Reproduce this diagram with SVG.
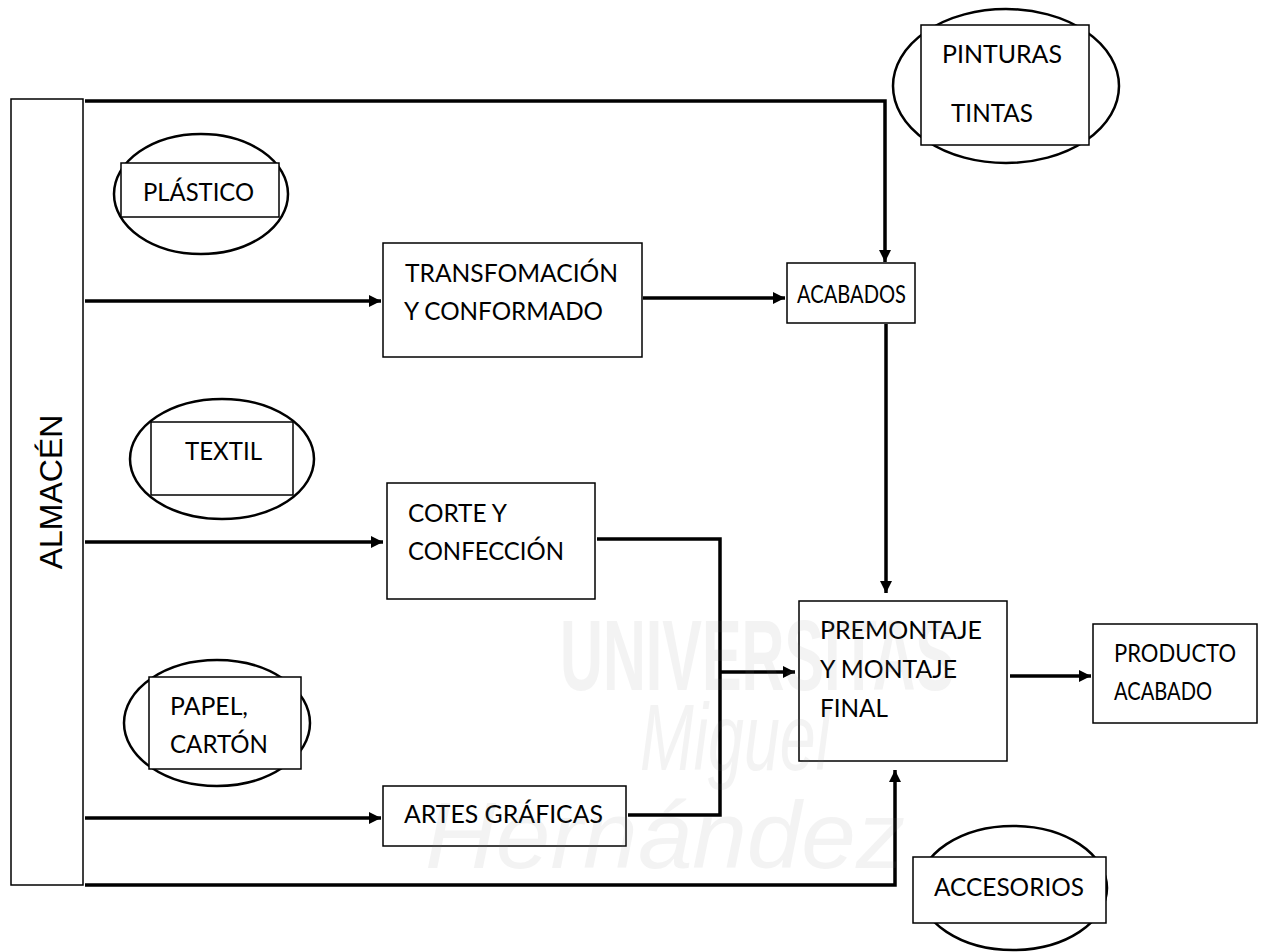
<svg xmlns="http://www.w3.org/2000/svg" width="1277" height="952" viewBox="0 0 1277 952">
<style>
.box{fill:#fff;stroke:#000;stroke-width:1.5}
.ell{fill:#fff;stroke:#000;stroke-width:2.5}
.t{font-family:Lato,"Liberation Sans",sans-serif;font-size:25px;fill:#000}
.c{fill:none;stroke:#000;stroke-width:3.5}
.wm{font-family:"Liberation Sans",sans-serif;fill:#808080;opacity:0.09}
</style>
<defs>
<marker id="ah" viewBox="0 0 12 12" refX="12" refY="6" markerWidth="12" markerHeight="12" markerUnits="userSpaceOnUse" orient="auto">
<path d="M0,0 L12,6 L0,12 Z" fill="#000"/>
</marker>
</defs>
<rect width="1277" height="952" fill="#fff"/>
<g id="connectors">
<path class="c" d="M85,101 H885 V262" marker-end="url(#ah)"/>
<path class="c" d="M85,301 H381" marker-end="url(#ah)"/>
<path class="c" d="M643,298 H785" marker-end="url(#ah)"/>
<path class="c" d="M886,324 V593" marker-end="url(#ah)"/>
<path class="c" d="M85,542 H383" marker-end="url(#ah)"/>
<path class="c" d="M597,539 H720 V815 H628"/>
<path class="c" d="M720,672 H795" marker-end="url(#ah)"/>
<path class="c" d="M85,818 H381" marker-end="url(#ah)"/>
<path class="c" d="M85,885 H895 V770" marker-end="url(#ah)"/>
<path class="c" d="M1010,676 H1091" marker-end="url(#ah)"/>
</g>
<g id="almacen">
<rect class="box" x="11" y="99" width="72" height="786"/>
<text font-family="'Liberation Sans',Arial,sans-serif" font-size="32" text-anchor="middle" transform="translate(62,492) rotate(-90)">ALMACÉN</text>
</g>
<g id="plastico">
<ellipse class="ell" cx="201" cy="194" rx="87" ry="60"/>
<rect class="box" x="121" y="163" width="158" height="54"/>
<text class="t" x="143" y="201" textLength="111" lengthAdjust="spacingAndGlyphs">PLÁSTICO</text>
</g>
<g id="pinturas">
<ellipse class="ell" cx="1006" cy="86" rx="113" ry="77"/>
<rect class="box" x="921" y="25" width="168" height="120"/>
<text class="t" x="942" y="63" textLength="120" lengthAdjust="spacingAndGlyphs">PINTURAS</text>
<text class="t" x="951" y="122" textLength="82" lengthAdjust="spacingAndGlyphs">TINTAS</text>
</g>
<g id="transformacion">
<rect class="box" x="383" y="243" width="259" height="114"/>
<text class="t" x="405" y="282" textLength="213" lengthAdjust="spacingAndGlyphs">TRANSFOMACIÓN</text>
<text class="t" x="404" y="320" textLength="199" lengthAdjust="spacingAndGlyphs">Y CONFORMADO</text>
</g>
<g id="acabados">
<rect class="box" x="787" y="263" width="128" height="60"/>
<text class="t" x="797" y="303" textLength="109" lengthAdjust="spacingAndGlyphs">ACABADOS</text>
</g>
<g id="textil">
<ellipse class="ell" cx="222" cy="459" rx="92" ry="60"/>
<rect class="box" x="151" y="422" width="142" height="73"/>
<text class="t" x="185" y="460" textLength="77" lengthAdjust="spacingAndGlyphs">TEXTIL</text>
</g>
<g id="corte">
<rect class="box" x="387" y="483" width="208" height="116"/>
<text class="t" x="408" y="522" textLength="99" lengthAdjust="spacingAndGlyphs">CORTE Y</text>
<text class="t" x="408" y="560" textLength="156" lengthAdjust="spacingAndGlyphs">CONFECCIÓN</text>
</g>
<g id="papel">
<ellipse class="ell" cx="217" cy="723" rx="93" ry="63"/>
<rect class="box" x="149" y="677" width="152" height="92"/>
<text class="t" x="170" y="715" textLength="78" lengthAdjust="spacingAndGlyphs">PAPEL,</text>
<text class="t" x="170" y="753" textLength="98" lengthAdjust="spacingAndGlyphs">CARTÓN</text>
</g>
<g id="artes">
<rect class="box" x="383" y="786" width="243" height="60"/>
<text class="t" x="404" y="823" textLength="199" lengthAdjust="spacingAndGlyphs">ARTES GRÁFICAS</text>
</g>
<g id="premontaje">
<rect class="box" x="799" y="601" width="208" height="160"/>
<text class="t" x="820" y="639" textLength="162" lengthAdjust="spacingAndGlyphs">PREMONTAJE</text>
<text class="t" x="820" y="678" textLength="137" lengthAdjust="spacingAndGlyphs">Y MONTAJE</text>
<text class="t" x="820" y="717" textLength="68" lengthAdjust="spacingAndGlyphs">FINAL</text>
</g>
<g id="producto">
<rect class="box" x="1093" y="624" width="164" height="99"/>
<text class="t" x="1114" y="662" textLength="122" lengthAdjust="spacingAndGlyphs">PRODUCTO</text>
<text class="t" x="1114" y="700" textLength="98" lengthAdjust="spacingAndGlyphs">ACABADO</text>
</g>
<g id="accesorios">
<ellipse class="ell" cx="1013" cy="888" rx="94" ry="62"/>
<rect class="box" x="913" y="857" width="193" height="66"/>
<text class="t" x="934" y="896" textLength="150" lengthAdjust="spacingAndGlyphs">ACCESORIOS</text>
</g>
<g id="watermark">
<text class="wm" x="560" y="690" font-size="100" font-weight="bold" textLength="395" lengthAdjust="spacingAndGlyphs">UNIVERSITAS</text>
<text class="wm" x="640" y="770" font-size="95" font-style="italic" textLength="190" lengthAdjust="spacingAndGlyphs">Miguel</text>
<text class="wm" x="425" y="868" font-size="95" font-style="italic" textLength="480" lengthAdjust="spacingAndGlyphs">Hernández</text>
</g>
</svg>
